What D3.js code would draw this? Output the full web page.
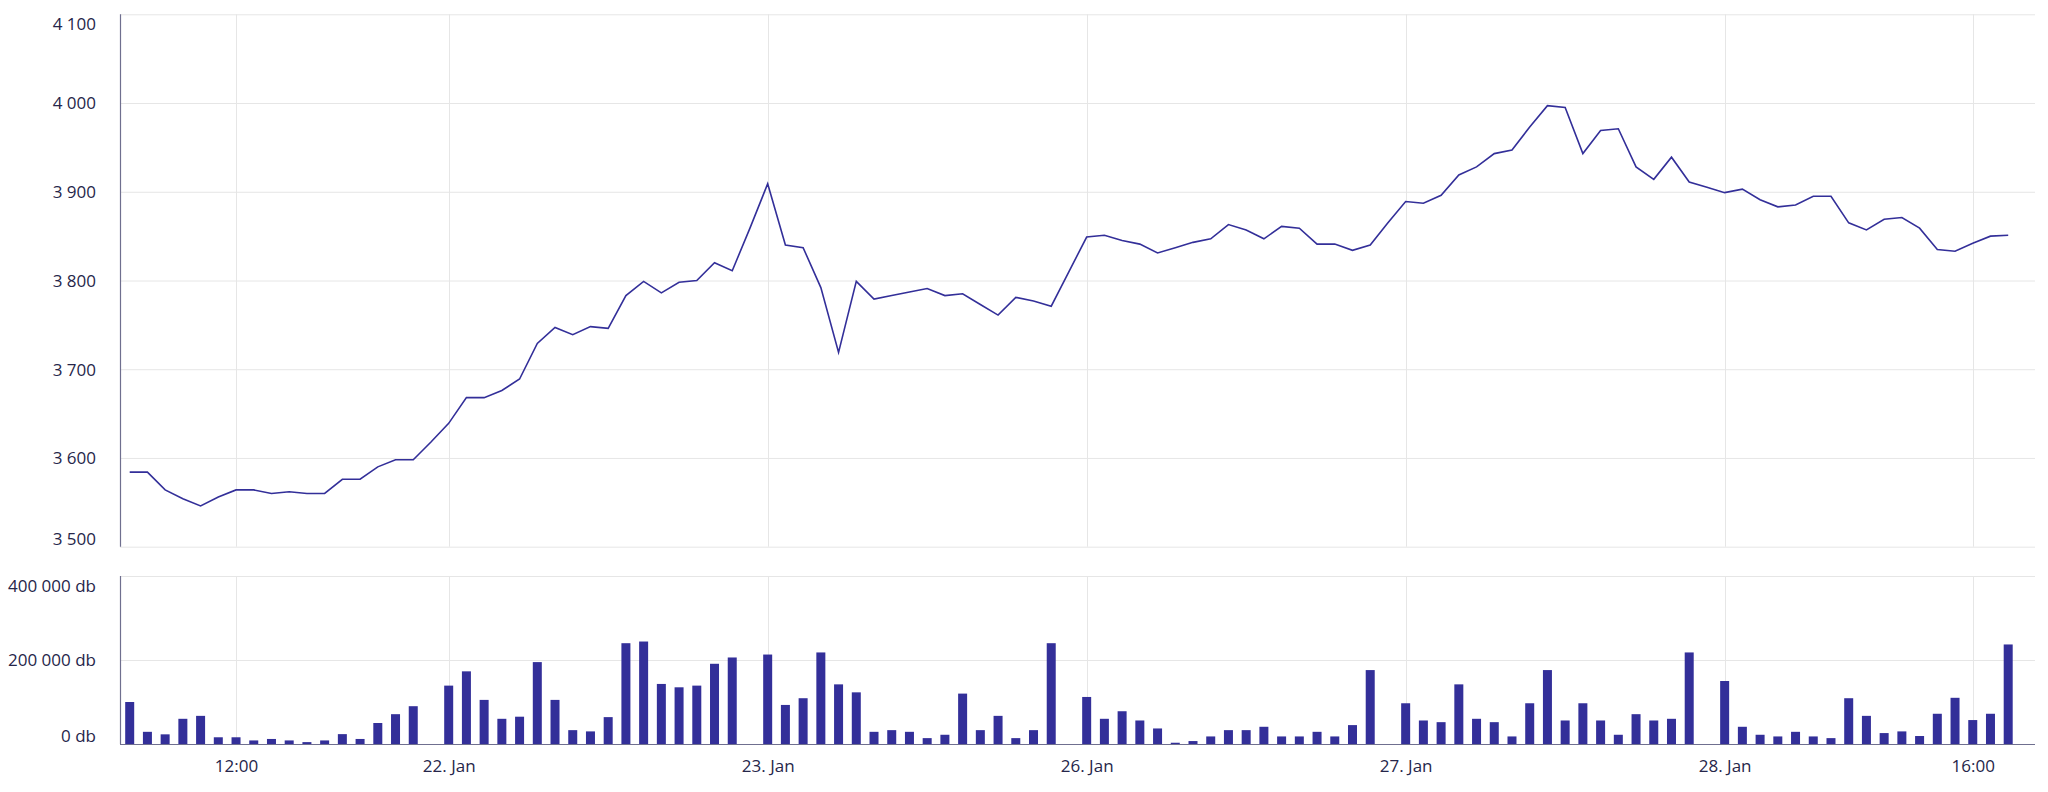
<!DOCTYPE html>
<html>
<head>
<meta charset="utf-8">
<script src="https://cdn.jsdelivr.net/npm/d3@7"></script>
<style>
  html, body { margin: 0; padding: 0; background: #ffffff; }
  svg { display: block; font-family: "Open Sans", Lato, sans-serif; }
</style>
</head>
<body>
<svg id="chart" width="2048" height="792"></svg>
<script>
// ---------- DATA ----------
const days = ["21. Jan", "22. Jan", "23. Jan", "26. Jan", "27. Jan", "28. Jan"];
const sessionTimes = ["09:00","09:30","10:00","10:30","11:00","11:30","12:00","12:30","13:00",
  "13:30","14:00","14:30","15:00","15:30","16:00","16:30","17:00","17:30"];
const lastDaySlots = 17; // 28. Jan ends at 17:00

const prices = [
  3584,3584,3564,3554,3546,3556,3564,3564,3560,3562,3560,3560,3576,3576,3590,3598,3598,3618,
  3639,3668,3668,3676,3689,3729,3747,3739,3748,3746,3783,3799,3786,3798,3800,3820,3811,3859,
  3909,3840,3837,3792,3719,3799,3779,3783,3787,3791,3783,3785,3773,3761,3781,3777,3771,3810,
  3849,3851,3845,3841,3831,3837,3843,3847,3863,3857,3847,3861,3859,3841,3841,3834,3840,3865,
  3889,3887,3896,3919,3928,3943,3947,3973,3997,3995,3943,3969,3971,3928,3914,3939,3911,3905,
  3899,3903,3891,3883,3885,3895,3895,3865,3857,3869,3871,3859,3835,3833,3842,3850,3851
];

const volumes = [
  100000,29000,23000,60000,67000,16000,16000,8500,12000,8500,4500,8500,23500,12000,50000,71000,90000,null,
  139000,173000,105000,60000,65000,195000,105000,33000,30000,64000,240000,244000,143000,135000,139000,191000,206000,null,
  213000,93000,109000,218000,142000,123000,29000,33000,29000,14000,22000,120000,33000,67000,14000,33000,240000,null,
  112000,60000,78000,56000,37000,3000,7000,18000,33000,33000,41000,18000,18000,29000,18000,45000,176000,null,
  97000,56000,52000,142000,60000,52000,18000,97000,176000,56000,97000,56000,22000,71000,56000,60000,218000,null,
  150000,41000,22000,18000,29000,18000,14000,109000,67000,26000,30000,19000,72000,110000,57000,72000,237000
];

const tickCats  = ["21. Jan 12:00", "22. Jan 09:00", "23. Jan 09:00", "26. Jan 09:00", "27. Jan 09:00", "28. Jan 09:00", "28. Jan 16:00"];
const tickTexts = ["12:00", "22. Jan", "23. Jan", "26. Jan", "27. Jan", "28. Jan", "16:00"];

const priceTicks  = [3500, 3600, 3700, 3800, 3900, 4000, 4100];
const volumeTicks = [0, 200000, 400000];

// ---------- BUILD CATEGORIES ----------
const categories = [];
days.forEach((d, i) => {
  const n = i === days.length - 1 ? lastDaySlots : sessionTimes.length;
  for (let k = 0; k < n; k++) categories.push(d + " " + sessionTimes[k]);
});
const rows = categories.map((c, i) => ({ cat: c, price: prices[i], vol: volumes[i] }));

// ---------- LAYOUT ----------
const left = 120, right = 2035;
const top1 = 14.3, bot1 = 546.7;
const top2 = 576, bot2 = 744;

const colorMain = "#332f99";
const gridColor = "#e6e6e6";
const axisColor = "#6f6f8f";
const textColor = "#26264a";
const fontFam = "'Open Sans', Lato, sans-serif";
const fontSize = 17;

const loc = d3.formatLocale({ decimal: ",", thousands: " ", grouping: [3], currency: ["", ""] });
const fmt = loc.format(",d");

const svg = d3.select("#chart");

const x = d3.scalePoint().domain(categories).range([129.7, 2008.2]);
const y1 = d3.scaleLinear().domain([3500, 4100]).range([bot1, top1]);
const y2 = d3.scaleLinear().domain([0, 400000]).range([bot2, top2]);

// vertical gridlines (both panels)
[[top1, bot1], [top2, bot2]].forEach(([t, b]) => {
  svg.append("g").selectAll("line").data(tickCats).join("line")
    .attr("x1", d => Math.round(x(d)) + 0.5).attr("x2", d => Math.round(x(d)) + 0.5)
    .attr("y1", t).attr("y2", b)
    .attr("stroke", gridColor).attr("stroke-width", 1);
});

// y axes with horizontal gridlines
function yAxis(scale, ticks, formatter) {
  const g = svg.append("g").attr("transform", `translate(${left},0)`)
    .call(d3.axisLeft(scale).tickValues(ticks).tickFormat(formatter)
      .tickSize(-(right - left)).tickPadding(24));
  g.select(".domain").remove();
  g.selectAll(".tick line").attr("stroke", gridColor).attr("stroke-width", 1);
  g.selectAll(".tick text")
    .attr("fill", textColor).attr("font-size", fontSize)
    .attr("font-family", fontFam)
    .attr("dy", (d, i) => i === 0 ? "-0.15em" : (i === ticks.length - 1 ? "0.9em" : "0.35em"));
  return g;
}
yAxis(y1, priceTicks, d => fmt(d));
yAxis(y2, volumeTicks, d => fmt(d) + " db");

// y-axis lines
svg.append("line").attr("x1", left + 0.5).attr("x2", left + 0.5).attr("y1", top1).attr("y2", bot1)
  .attr("stroke", axisColor).attr("stroke-width", 1.2);
svg.append("line").attr("x1", left + 0.5).attr("x2", left + 0.5).attr("y1", top2).attr("y2", bot2)
  .attr("stroke", axisColor).attr("stroke-width", 1.2);

// volume bars
const bw = 9;
svg.append("g").selectAll("rect").data(rows.filter(r => r.vol != null)).join("rect")
  .attr("x", d => x(d.cat) - bw / 2)
  .attr("y", d => y2(d.vol))
  .attr("width", bw)
  .attr("height", d => y2(0) - y2(d.vol))
  .attr("fill", colorMain);

// bottom x axis
const gx = svg.append("g").attr("transform", `translate(0,${bot2})`)
  .call(d3.axisBottom(x).tickValues(tickCats)
    .tickFormat(d => tickTexts[tickCats.indexOf(d)]).tickSize(0).tickPadding(16));
gx.select(".domain").remove();
gx.selectAll(".tick text").attr("fill", textColor).attr("font-size", fontSize)
  .attr("font-family", fontFam);
svg.append("line").attr("x1", left).attr("x2", right).attr("y1", bot2 + 0.5).attr("y2", bot2 + 0.5)
  .attr("stroke", axisColor).attr("stroke-width", 1.2);

// price line
const line = d3.line().x(d => x(d.cat)).y(d => y1(d.price));
svg.append("path").datum(rows)
  .attr("d", line)
  .attr("fill", "none")
  .attr("stroke", colorMain)
  .attr("stroke-width", 1.6)
  .attr("stroke-linejoin", "miter");
</script>
</body>
</html>
